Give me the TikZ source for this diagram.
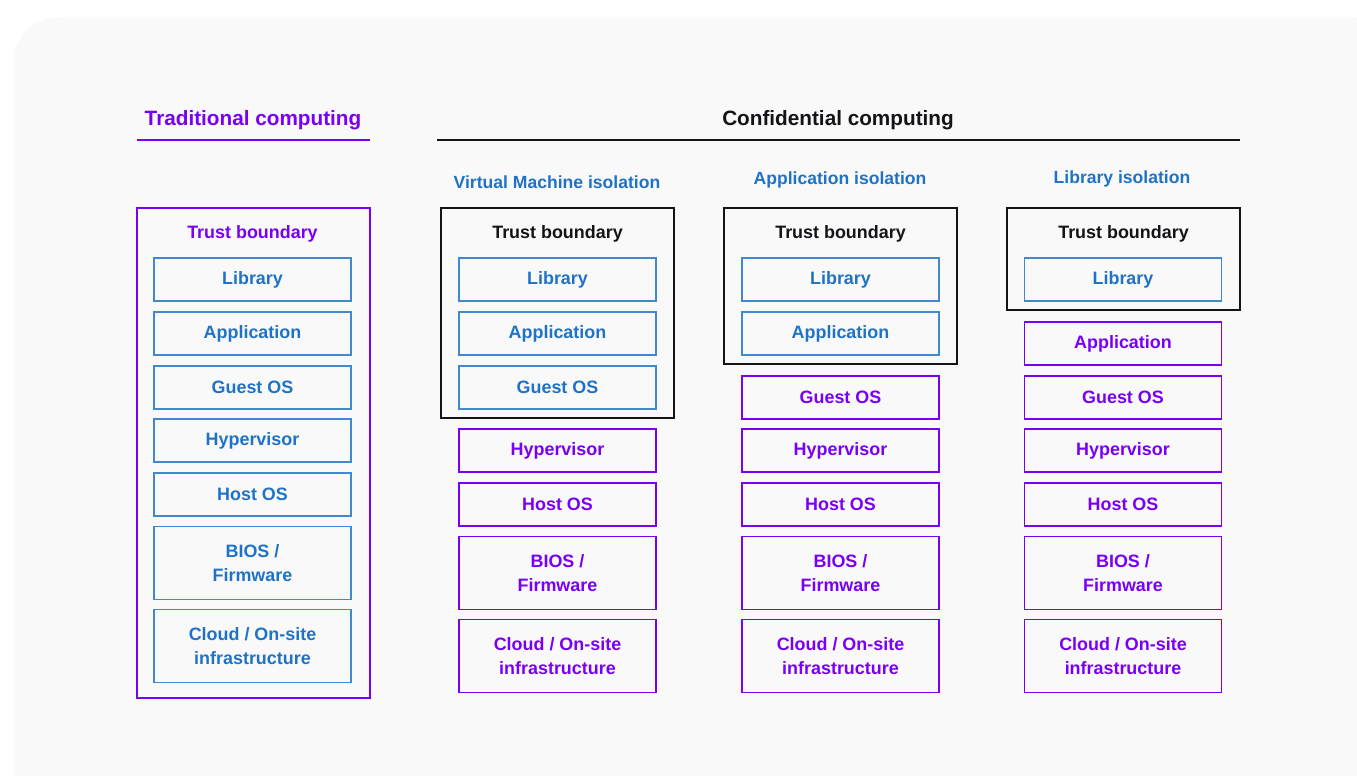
\documentclass[tikz,border=0pt]{standalone}
\usepackage{fontspec}
\setmainfont{Liberation Sans}
\usepackage{xcolor}
\usetikzlibrary{positioning}

\definecolor{violet}{HTML}{7A00F5}
\definecolor{azure}{HTML}{1F73C6}
\definecolor{ink}{HTML}{141418}
\definecolor{card}{HTML}{F9F9F9}

\begin{document}
\begin{tikzpicture}[x=0.02cm, y=-0.02cm,
  layer/.style={draw, line width=0.8pt, align=center, minimum width=3.94cm,
                minimum height=0.86cm, inner sep=1pt,
                font=\bfseries\fontsize{10.2}{13.6}\selectfont},
  tall/.style={minimum height=1.46cm},
  inside/.style={layer, draw=azure!85, text=azure},
  outside/.style={layer, draw=violet, text=violet},
  bound/.style={draw, line width=0.8pt, minimum width=4.66cm, inner sep=0pt},
  tblbl/.style={font=\bfseries\fontsize{10.2}{12}\selectfont, inner sep=1pt, yshift=-0.04cm},
  head/.style={font=\bfseries\fontsize{11.8}{14}\selectfont, inner sep=1pt, yshift=-0.04cm},
  sub/.style={font=\bfseries\fontsize{10}{12}\selectfont, text=azure, inner sep=1pt, yshift=-0.04cm}
]
\useasboundingbox (0,0) rectangle (1357,776);
% --- card ------------------------------------------------------------------
\fill[white] (0,0) rectangle (1357,776);
\fill[black!2, rounded corners=26] (13,17) rectangle (1400,820);
\fill[card, rounded corners=22] (16,20) rectangle (1400,820);

% --- headings --------------------------------------------------------------
\node[head, text=violet] (trad) at (253,118) {Traditional computing};
\node[head, text=ink]    (conf) at (838,118) {Confidential computing};
\draw[violet, line width=0.8pt] (137,140) -- (370,140);
\draw[ink, line width=0.8pt] (437,140) -- (1240,140);

\node[sub] (vmiso)  at (557,180) {Virtual Machine isolation};
\node[sub] (appiso) at (840,178) {Application isolation};
\node[sub] (libiso) at (1122,177) {Library isolation};

% --- traditional stack -----------------------------------------------------
\node[bound, draw=violet, minimum height=9.8cm] (tradbox) at (253.5,453) {};
\node[tblbl, text=violet] (tradtb) at (252.5,232) {Trust boundary};
\node[inside] (tlib)  at (252.5,279.5) {Library};
\node[inside] (tapp)  at (252.5,333.5) {Application};
\node[inside] (tgos)  at (252.5,387.5) {Guest OS};
\node[inside] (thyp)  at (252.5,440.5) {Hypervisor};
\node[inside] (thos)  at (252.5,494.5) {Host OS};
\node[inside, tall] (tbios) at (252.5,563) {BIOS /\\Firmware};
\node[inside, tall] (tinf)  at (252.5,646) {Cloud / On-site\\infrastructure};

% --- trust boundaries ------------------------------------------------------
\node[bound, draw=ink, minimum height=4.2cm]  (vmbox)  at (557.5,313) {};
\node[bound, draw=ink, minimum height=3.12cm] (appbox) at (840.5,286) {};
\node[bound, draw=ink, minimum height=2.04cm] (libbox) at (1123.5,259) {};
\foreach \cx/\nm in {557.5/vm, 840.5/app, 1123.5/lib}
  \node[tblbl, text=ink] (\nm tb) at (\cx,232) {Trust boundary};

% --- virtual machine isolation ---------------------------------------------
\node[inside]  (vlib) at (557.5,279.5) {Library};
\node[inside]  (vapp) at (557.5,333.5) {Application};
\node[inside]  (vgos) at (557.5,387.5) {Guest OS};

% --- application isolation -------------------------------------------------
\node[inside]  (alib) at (840.5,279.5) {Library};
\node[inside]  (aapp) at (840.5,333.5) {Application};
\node[outside] (agos) at (840.5,397.5) {Guest OS};

% --- library isolation -----------------------------------------------------
\node[inside]  (llib) at (1123,279.5) {Library};
\node[outside] (lapp) at (1123,343.5) {Application};
\node[outside] (lgos) at (1123,397.5) {Guest OS};

% untrusted lower layers, same in all three columns
\foreach \cx/\nm in {557.5/v, 840.5/a, 1123/l} {
  \node[outside] (\nm hyp) at (\cx,450.5) {Hypervisor};
  \node[outside] (\nm hos) at (\cx,504.5) {Host OS};
  \node[outside, tall] (\nm bios) at (\cx,573) {BIOS /\\Firmware};
  \node[outside, tall] (\nm inf)  at (\cx,656) {Cloud / On-site\\infrastructure};
}
\end{tikzpicture}
\end{document}
